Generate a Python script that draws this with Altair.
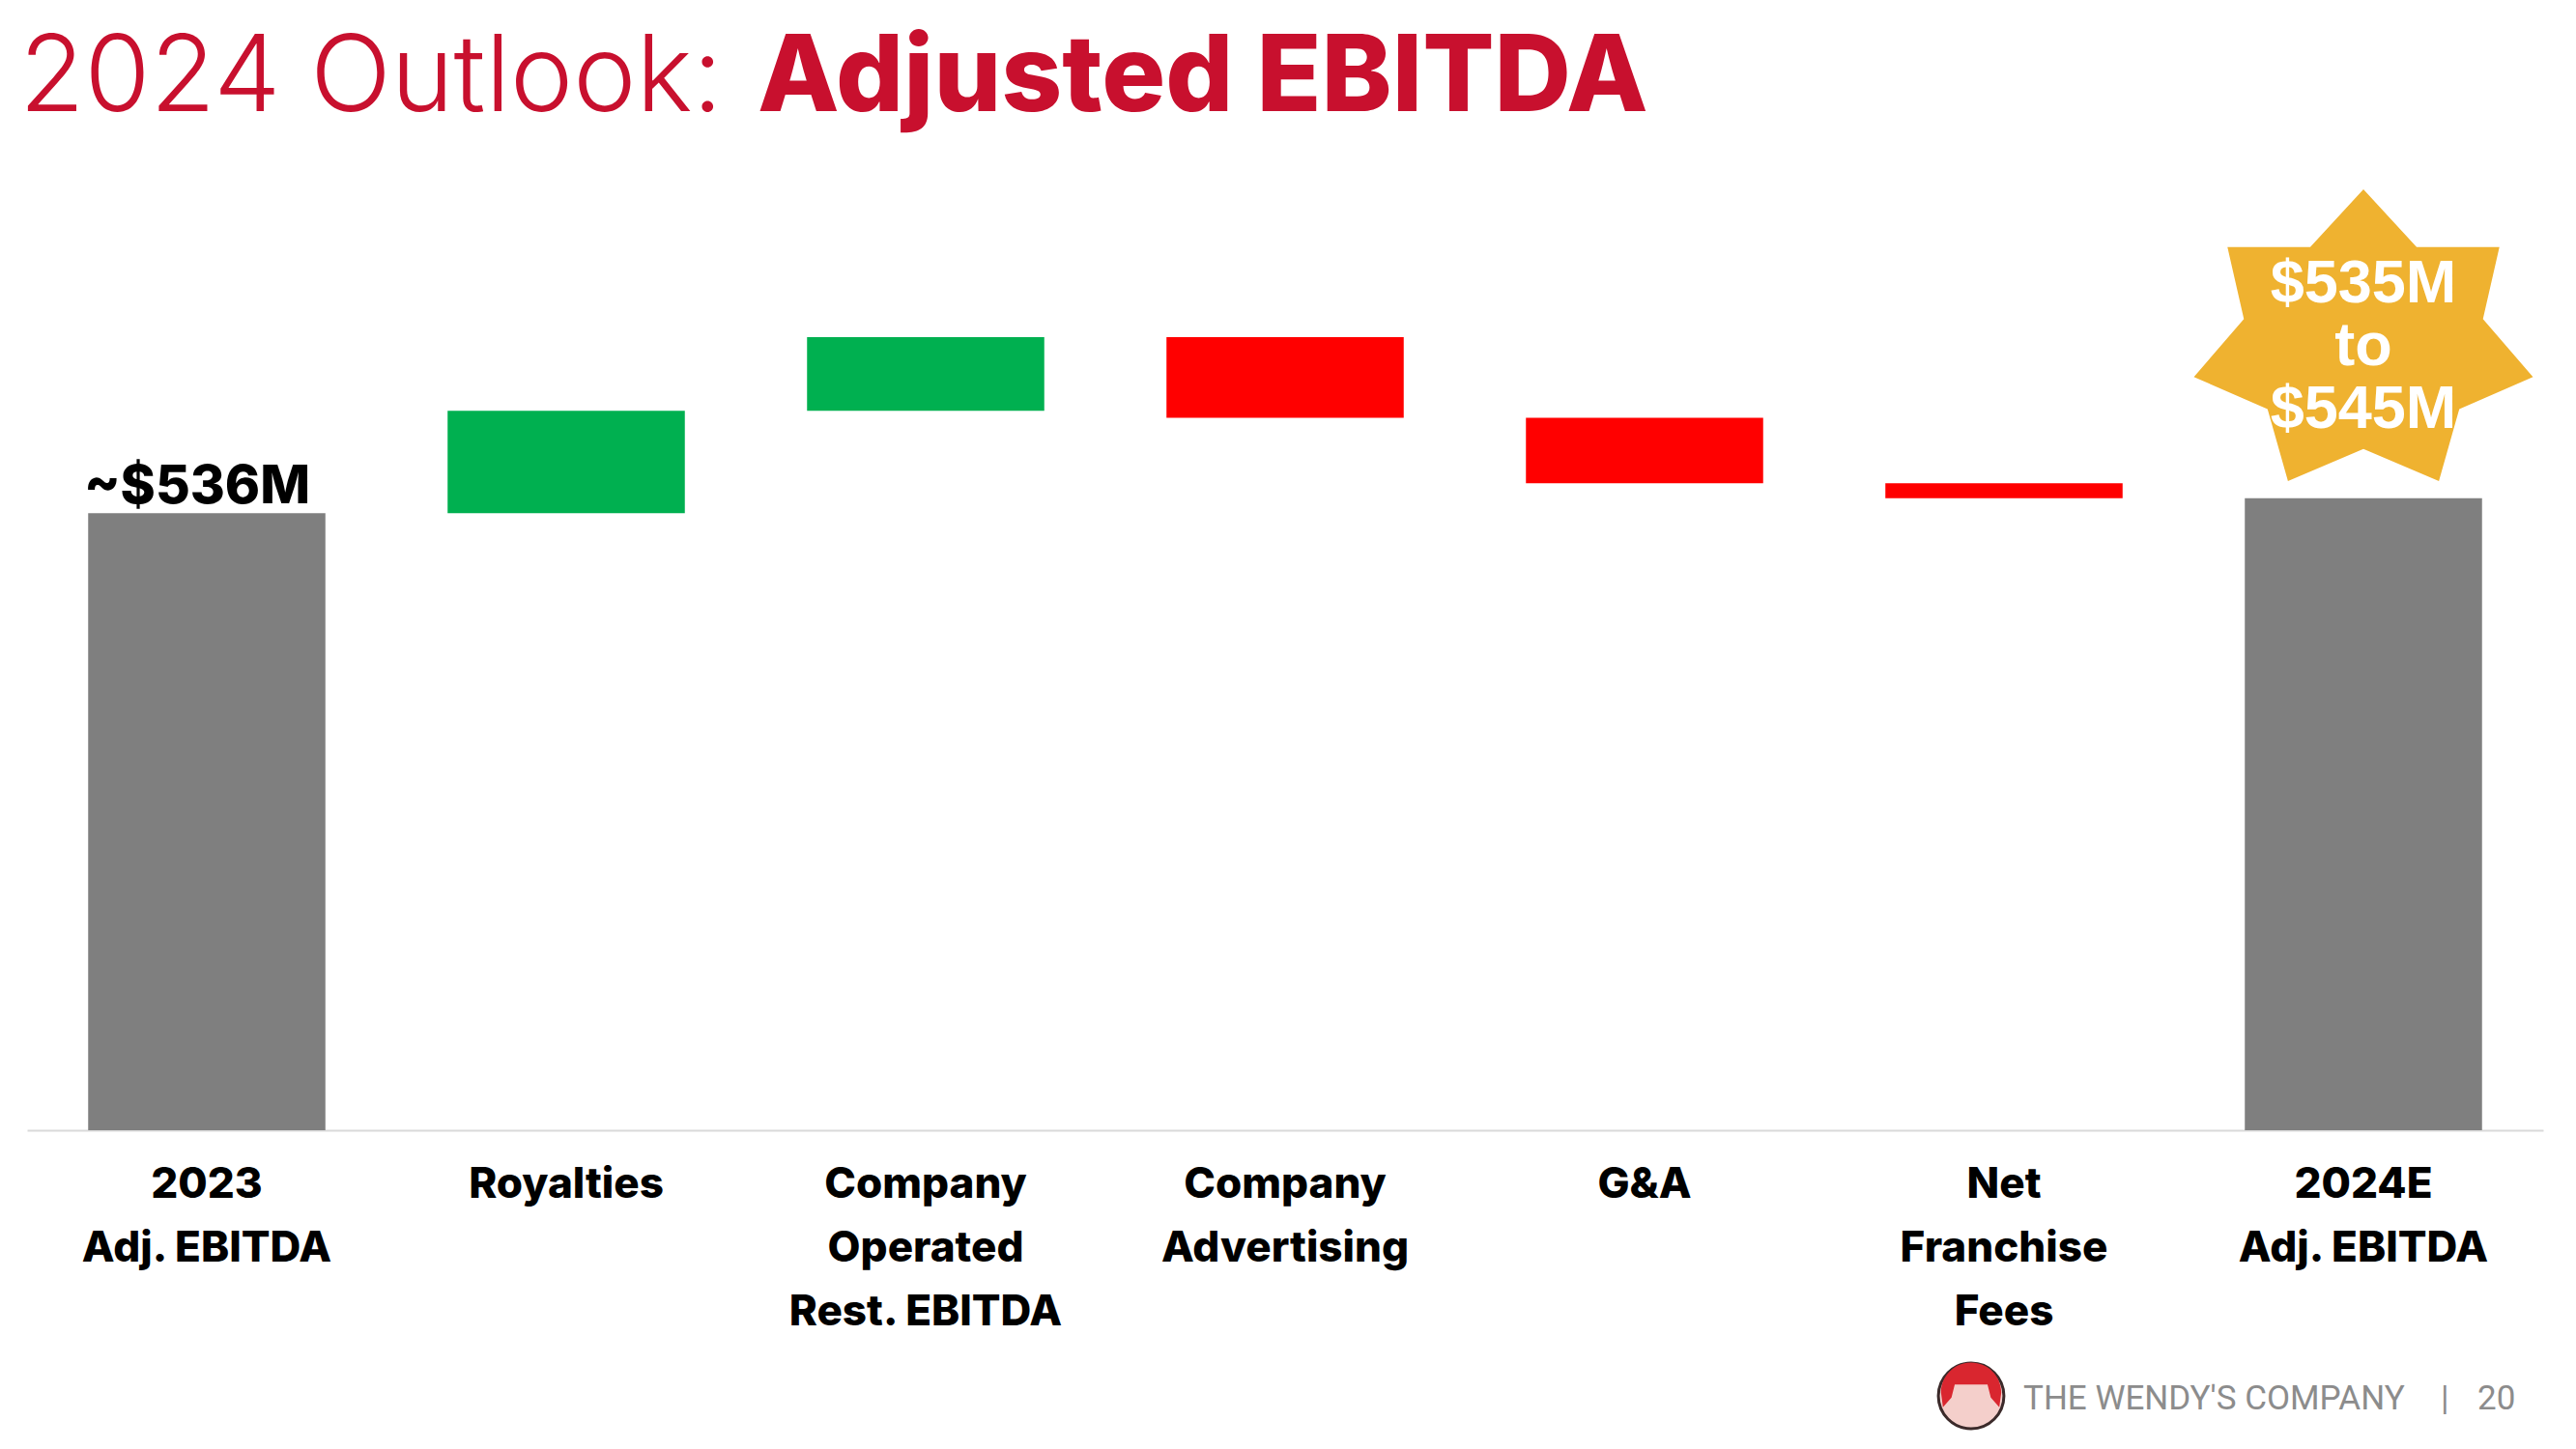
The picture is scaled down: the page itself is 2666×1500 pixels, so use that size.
import math
import pandas as pd
import altair as alt

# ---------------- data ----------------
categories = [
    "2023\nAdj. EBITDA",
    "Royalties",
    "Company\nOperated\nRest. EBITDA",
    "Company\nAdvertising",
    "G&A",
    "Net\nFranchise\nFees",
    "2024E\nAdj. EBITDA",
]
kinds = ["total", "up", "up", "down", "down", "down", "total"]
deltas = [536, 89, 64, -70, -57, -13, 0]   # $M

start_label = "~$536M"
star_lines = ["$535M", "to", "$545M"]
title_light = "2024 Outlook:"
title_bold = "Adjusted EBITDA"
footer_company = "THE WENDY'S COMPANY"
footer_sep = "|"
footer_page = "20"

kind_domain = ["total", "up", "down"]
kind_colors = ["#7F7F7F", "#00B050", "#FF0000"]
RED_TITLE = "#C8102E"
GOLD = "#EFB230"

# ---------------- waterfall table ----------------
rows = []
running = 0
for cat, kind, d in zip(categories, kinds, deltas):
    if kind == "total":
        if d:
            running = d
        rows.append({"cat": cat, "kind": kind, "start": 0, "end": running})
    else:
        rows.append({"cat": cat, "kind": kind, "start": running, "end": running + d})
        running += d
df = pd.DataFrame(rows)
df_first = df.iloc[[0]].assign(label=start_label)
df_last = df.iloc[[-1]].assign(label="\n".join(star_lines))

# ---------------- star shape (7 points) ----------------
pts = []
for k in range(14):
    a = math.radians(-90 + k * 180 / 7)
    if k % 2 == 0:
        rx, ry = 1.0, 0.883
    else:
        rx, ry = 0.705, 0.611
    pts.append(f"{math.cos(a) * rx:.4f},{math.sin(a) * ry:.4f}")
star_path = "M" + " L".join(pts) + " Z"

hair_path = "M -0.86,0.35 L -0.92,-0.1 A 0.92 0.92 0 0 1 0.92,-0.1 L 0.86,0.35 L 0.6,0.05 L 0.5,-0.35 L -0.5,-0.35 L -0.6,0.05 Z"

# ---------------- chart ----------------
X = alt.X(
    "cat:N",
    sort=categories,
    scale=alt.Scale(paddingInner=0.34, paddingOuter=0.17),
    axis=alt.Axis(
        title=None,
        labelExpr="split(datum.label, '\\n')",
        labelFont="Inter",
        labelFontSize=44,
        labelFontWeight=800,
        labelColor="#000000",
        labelLineHeight=66,
        labelPadding=34,
        labelLimit=600,
        labelAngle=0,
        labelOverlap=False,
        ticks=False,
        grid=False,
        domainColor="#D9D9D9",
        domainWidth=2,
    ),
)
YSCALE = alt.Scale(domain=[0, 856])

bars = alt.Chart(df).mark_bar().encode(
    x=X,
    y=alt.Y("start:Q", scale=YSCALE, axis=None),
    y2="end:Q",
    color=alt.Color("kind:N", scale=alt.Scale(domain=kind_domain, range=kind_colors), legend=None),
)

first_label = alt.Chart(df_first).mark_text(
    font="Inter", fontSize=55, fontWeight=800, color="#000000",
    align="center", baseline="alphabetic", dy=-10, dx=-10,
).encode(x=X, y=alt.Y("end:Q", scale=YSCALE, axis=None), text="label:N")

star = alt.Chart(df_last).mark_point(
    shape=star_path, size=129600, filled=True, color=GOLD, opacity=1, strokeWidth=0,
).encode(x=X, y=alt.Y("end:Q", scale=YSCALE, axis=None), yOffset=alt.value(-161))

star_text = alt.Chart(df_last).mark_text(
    font="Liberation Sans", fontSize=63, fontWeight="bold", color="#FFFFFF",
    align="center", baseline="middle", lineBreak="\n", lineHeight=65,
).encode(x=X, y=alt.Y("end:Q", scale=YSCALE, axis=None), yOffset=alt.value(-222), text="label:N")

tdf = pd.DataFrame({"a": [title_light], "b": [title_bold],
                    "c": [footer_company], "s": [footer_sep], "p": [footer_page]})
title1 = alt.Chart(tdf).mark_text(
    font="Inter", fontSize=110, fontWeight=300, color=RED_TITLE, align="left", baseline="alphabetic",
).encode(x=alt.value(-8), y=alt.value(-35), text="a:N")
title2 = alt.Chart(tdf).mark_text(
    font="Inter", fontSize=110, fontWeight=800, color=RED_TITLE, align="left", baseline="alphabetic",
).encode(x=alt.value(756), y=alt.value(-35), text="b:N")

foot_style = dict(font="Roboto", fontSize=35, fontWeight=400, color="#8C8C8C", align="left", baseline="middle")
footer1 = alt.Chart(tdf).mark_text(**foot_style).encode(x=alt.value(2066), y=alt.value(1298), text="c:N")
footer2 = alt.Chart(tdf).mark_text(**foot_style).encode(x=alt.value(2498), y=alt.value(1298), text="s:N")
footer3 = alt.Chart(tdf).mark_text(**foot_style).encode(x=alt.value(2536), y=alt.value(1298), text="p:N")

logo_face = alt.Chart(tdf).mark_point(
    shape="circle", size=4600, filled=True, color="#F4CFCB", stroke="#3B2A2A", strokeWidth=3, opacity=1,
).encode(x=alt.value(2012), y=alt.value(1295))
logo_hair = alt.Chart(tdf).mark_point(
    shape=hair_path, size=4600, filled=True, color="#D9262F", strokeWidth=0, opacity=1,
).encode(x=alt.value(2012), y=alt.value(1295))

chart = alt.layer(
    bars, first_label, star, star_text, title1, title2,
    footer1, footer2, footer3, logo_face, logo_hair,
).properties(
    width=2604,
    height=1020,
    autosize=alt.AutoSizeParams(type="none"),
    padding={"left": 20, "top": 142, "right": 20, "bottom": 322},
).configure_view(stroke=None)

chart.save("out.html", embed_options={"renderer": "svg", "actions": False})
